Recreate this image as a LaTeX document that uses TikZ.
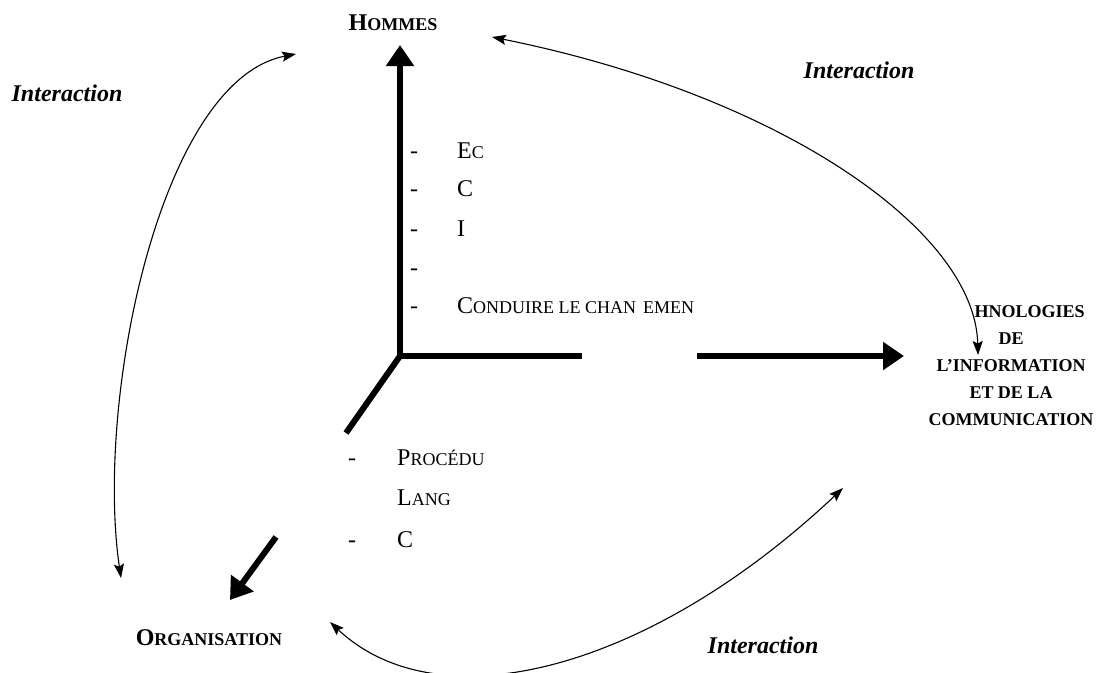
\documentclass[tikz,border=0pt]{standalone}
\usepackage{fontspec}
\setmainfont{Liberation Serif}
\usetikzlibrary{arrows.meta}
\newcommand\scap[2]{{\fontsize{24}{28}\selectfont #1}{\fontsize{18}{22}\selectfont #2}}
\begin{document}
\begin{tikzpicture}[x=1pt,y=-1pt,
  axis/.style={line width=6pt},
  axhead/.style={-{Triangle[length=21pt,width=27pt]}},
  inter/.style={line width=1.1pt,{Stealth[length=14pt,width=10pt,inset=2.5pt]}-{Stealth[length=14pt,width=10pt,inset=2.5pt]}},
  lbl/.style={font=\fontsize{24}{28}\selectfont\bfseries\itshape, inner sep=0pt},
  pole/.style={font=\bfseries, inner sep=0pt},
  item/.style={anchor=base west, inner sep=0pt, font=\fontsize{24}{28}\selectfont}]
\useasboundingbox (0,0) rectangle (1102,672);

% poles
\node[pole] (hommes) at (393,23) {\scap{H}{OMMES}};
\node[pole] (orga) at (209,638) {\scap{O}{RGANISATION}};
\node[pole, anchor=north, align=center, font=\fontsize{18}{27}\selectfont\bfseries] (tic) at (1011,305)
  {\phantom{TEC}HNOLOGIES\\ DE\\ L’INFORMATION\\ ET DE LA\\ COMMUNICATION};

% interaction labels
\node[lbl] (i1) at (67,93) {Interaction};
\node[lbl] (i2) at (859,70) {Interaction};
\node[lbl] (i3) at (763,645) {Interaction};

% axes
\coordinate (O) at (400,356);
\coordinate (vtip) at (400,45);
\coordinate (h1) at (582,356);
\coordinate (h2) at (697,356);
\coordinate (htip) at (904,356);
\coordinate (d1) at (346,433);
\coordinate (d2) at (276,537);
\coordinate (dtip) at (230,600);
\draw[axis, {Triangle[length=21pt,width=27pt]}-] (vtip) -- (O) -- (h1);
\draw[axis] (O) -- (d1);
\draw[axis, axhead] (h2) -- (htip);
\draw[axis, axhead] (d2) -- (dtip);

% upper list
\node[item] (u1d) at (410,158) {-};
\node[item] (u1) at (457,158) {\scap{E}{C}};
\node[item] (u2d) at (410,196) {-};
\node[item] (u2) at (457,196) {C};
\node[item] (u3d) at (410,236) {-};
\node[item] (u3) at (457,236) {I};
\node[item] (u4d) at (410,275) {-};
\node[item] (u5d) at (410,313) {-};
\node[item] (u5) at (457,313) {\scap{C}{ONDUIRE LE CHAN\hspace{7pt}EMEN}};

% lower list
\node[item] (l1d) at (348,465) {-};
\node[item] (l1) at (397,465) {\scap{P}{ROCÉDU}};
\node[item] (l2) at (397,505) {\scap{L}{ANG}};
\node[item] (l3d) at (348,547) {-};
\node[item] (l3) at (397,547) {C};

% interaction curves
\coordinate (trA) at (492,37);
\coordinate (trB) at (978,355);
\coordinate (lA) at (296,54);
\coordinate (lB) at (121,578);
\coordinate (bA) at (330,622);
\coordinate (bB) at (843,488);
\draw[inter] (trA) .. controls (780,95) and (975,230) .. (trB);
\draw[inter] (lA) .. controls (160,80) and (95,400) .. (lB);
\draw[inter] (bA) .. controls (440,725) and (650,670) .. (bB);
\end{tikzpicture}
\end{document}
